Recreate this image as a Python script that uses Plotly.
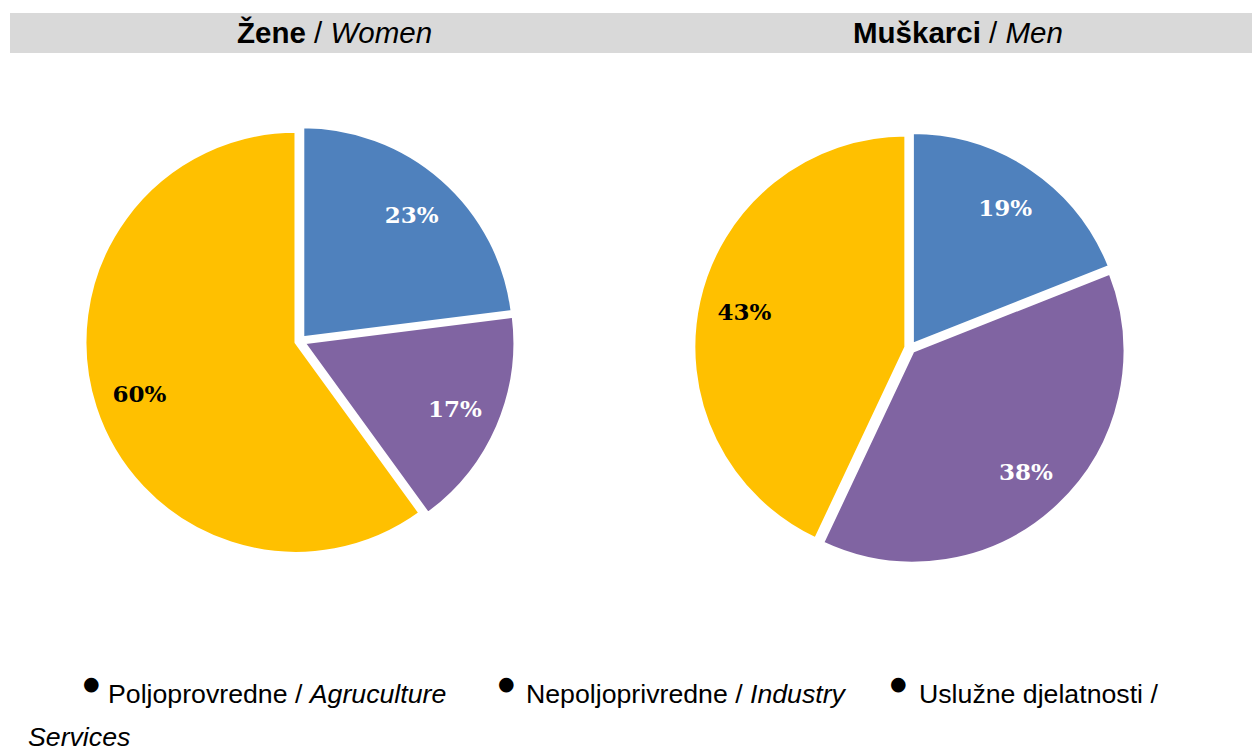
import plotly.graph_objects as go

categories_hr = ["Poljoprovredne", "Nepoljoprivredne", "Uslužne djelatnosti"]
categories_en = ["Agruculture", "Industry", "Services"]
women_values = [23, 17, 60]
men_values = [19, 38, 43]
colors = ["#4F81BD", "#8064A2", "#FFC000"]
label_colors = ["white", "white", "black"]

W, H = 1260, 749
OFF = 8  # page body margin in the browser


def px(x):
    return (x - OFF) / W


def py(y):
    return 1 - (y - OFF) / H


def pie_traces(values, cx, cy, r):
    half = r * 1.02
    dom = dict(x=[px(cx - half), px(cx + half)], y=[py(cy + half), py(cy - half)])
    base = go.Pie(
        values=values,
        labels=categories_hr,
        textinfo="none",
        marker=dict(colors=colors, line=dict(color="white", width=3)),
        sort=False,
        direction="clockwise",
        rotation=0,
        pull=0.02,
        domain=dom,
        hoverinfo="label+percent",
        showlegend=False,
    )
    labels = go.Pie(
        values=values,
        labels=categories_hr,
        text=[f"{v}%" for v in values],
        textinfo="text",
        textposition="inside",
        insidetextorientation="horizontal",
        insidetextfont=dict(family="DejaVu Serif", size=23, color=label_colors,
                            weight="bold"),
        marker=dict(colors=["rgba(0,0,0,0)"] * 3, line=dict(width=0)),
        hole=0.56,
        sort=False,
        direction="clockwise",
        rotation=0,
        pull=0.02,
        domain=dom,
        hoverinfo="skip",
        showlegend=False,
    )
    return [base, labels]


fig = go.Figure()
for t in pie_traces(women_values, 300, 341, 211):
    fig.add_trace(t)
for t in pie_traces(men_values, 910, 348, 212):
    fig.add_trace(t)

# header band
fig.add_shape(type="rect", xref="paper", yref="paper",
              x0=px(10), x1=px(1258), y0=py(53), y1=py(13),
              fillcolor="#D9D9D9", line=dict(width=0), layer="below")

hfont = dict(family="Liberation Sans, Arial", size=29.5, color="black")
fig.add_annotation(x=px(334), y=py(33), xref="paper", yref="paper",
                   text="<b>Žene</b> / <i>Women</i>", showarrow=False, font=hfont,
                   xanchor="center", yanchor="middle")
fig.add_annotation(x=px(958), y=py(33), xref="paper", yref="paper",
                   text="<b>Muškarci</b> / <i>Men</i>", showarrow=False, font=hfont,
                   xanchor="center", yanchor="middle")

# legend (text with black bullets)
lfont = dict(family="Liberation Sans, Arial", size=26.7, color="black")
bullet_x = [91, 506, 898]
text_x = [106, 524, 917]
for i in range(3):
    fig.add_annotation(x=px(bullet_x[i]), y=py(683), xref="paper", yref="paper",
                       text="●", showarrow=False,
                       font=dict(family="DejaVu Sans", size=19, color="black"),
                       xanchor="center", yanchor="middle")
    if i < 2:
        t = f"{categories_hr[i]} / <i>{categories_en[i]}</i>"
    else:
        t = f"{categories_hr[i]} /"
    fig.add_annotation(x=px(text_x[i]), y=py(694), xref="paper", yref="paper",
                       text=t, showarrow=False, font=lfont,
                       xanchor="left", yanchor="middle")
fig.add_annotation(x=px(26), y=py(737), xref="paper", yref="paper",
                   text=f"<i>{categories_en[2]}</i>", showarrow=False, font=lfont,
                   xanchor="left", yanchor="middle")

fig.update_layout(width=W, height=H, margin=dict(l=0, r=0, t=0, b=0),
                  paper_bgcolor="white", plot_bgcolor="white")

fig.write_html("out.html")
